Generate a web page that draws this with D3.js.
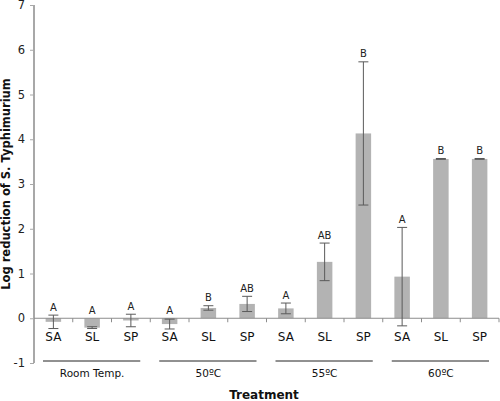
<!DOCTYPE html>
<html><head><meta charset="utf-8">
<script src="https://cdn.jsdelivr.net/npm/d3@7"></script>
<style>body{margin:0;background:#fff;} svg{display:block;}</style>
</head><body>
<svg id="c" width="500" height="401"></svg>
<script>
const groups = ["Room Temp.", "50ºC", "55ºC", "60ºC"];
const subs = ["SA", "SL", "SP"];
const means = [-0.08, -0.21, -0.05, -0.13, 0.23, 0.32, 0.22, 1.26, 4.13, 0.93, 3.56, 3.56];
const errs = [0.15, 0.02, 0.14, 0.11, 0.05, 0.17, 0.12, 0.42, 1.6, 1.1, 0.01, 0.01];
const letters = ["A", "A", "A", "A", "B", "AB", "A", "AB", "B", "A", "B", "B"];
const yTicks = [-1, 0, 1, 2, 3, 4, 5, 6, 7];

const data = [];
groups.forEach((g, gi) => subs.forEach((s, si) => {
  const i = gi * 3 + si;
  data.push({key: g + "|" + s, group: g, sub: s, mean: means[i], err: errs[i], letter: letters[i]});
}));

const svg = d3.select("#c");
const font = "'DejaVu Sans', Verdana, sans-serif";
const x0 = 34, x1 = 499;
const x = d3.scaleBand().domain(data.map(d => d.key)).range([x0, x1]).paddingInner(0.6).paddingOuter(0.3);
const gx = d3.scaleBand().domain(groups).range([x0, x1]);
const y = d3.scaleLinear().domain([-1, 7]).range([363, 5]);

// y axis
const yAx = svg.append("g").attr("transform", `translate(${x0},0)`)
  .call(d3.axisLeft(y).tickValues(yTicks).tickSize(4).tickPadding(5).tickFormat(d => String(d)));
yAx.select(".domain").attr("stroke", "#a8a8a8").attr("stroke-width", 2).attr("d", `M0,${y(7)}V${y(-1)}`);
yAx.selectAll(".tick line").attr("stroke", "#a8a8a8");
yAx.selectAll(".tick text").attr("font-family", font).attr("font-size", 11.5).attr("fill", "#222");

// bars
svg.append("g").selectAll("rect").data(data).join("rect")
  .attr("x", d => x(d.key)).attr("width", x.bandwidth())
  .attr("y", d => y(Math.max(0, d.mean))).attr("height", d => Math.abs(y(d.mean) - y(0)))
  .attr("fill", "#b3b3b3");

// zero line + category boundary ticks
svg.append("line").attr("x1", x0).attr("x2", x1).attr("y1", y(0)).attr("y2", y(0)).attr("stroke", "#8c8c8c").attr("stroke-width", 1);
const step = x.step();
svg.append("g").selectAll("line").data(data).join("line")
  .attr("x1", d => x(d.key) - x.paddingOuter() * step + step).attr("x2", d => x(d.key) - x.paddingOuter() * step + step)
  .attr("y1", y(0)).attr("y2", y(0) + 4).attr("stroke", "#8c8c8c");

// error bars
const eb = svg.append("g").attr("stroke", "#5a5a5a").attr("stroke-width", 1);
data.forEach(d => {
  const cx = x(d.key) + x.bandwidth() / 2;
  const t = y(d.mean + d.err), b = y(d.mean - d.err);
  eb.append("line").attr("x1", cx).attr("x2", cx).attr("y1", t).attr("y2", b);
  eb.append("line").attr("x1", cx - 5).attr("x2", cx + 5).attr("y1", t).attr("y2", t);
  eb.append("line").attr("x1", cx - 5).attr("x2", cx + 5).attr("y1", b).attr("y2", b);
});

// letters
svg.append("g").selectAll("text").data(data).join("text")
  .attr("x", d => x(d.key) + x.bandwidth() / 2)
  .attr("y", d => y(Math.max(0, d.mean + d.err)) - 4.5)
  .attr("text-anchor", "middle").attr("font-family", font).attr("font-size", 10).attr("fill", "#222")
  .text(d => d.letter);

// category labels
svg.append("g").selectAll("text").data(data).join("text")
  .attr("x", d => x(d.key) + x.bandwidth() / 2).attr("y", 341)
  .attr("text-anchor", "middle").attr("font-family", font).attr("font-size", 12).attr("fill", "#111")
  .text(d => d.sub);

// group underlines and labels
svg.append("g").selectAll("line").data(groups).join("line")
  .attr("x1", g => gx(g) + 9).attr("x2", g => gx(g) + gx.bandwidth() - 10)
  .attr("y1", 361).attr("y2", 361).attr("stroke", "#222").attr("stroke-width", 1);
svg.append("g").selectAll("text").data(groups).join("text")
  .attr("x", g => gx(g) + gx.bandwidth() / 2).attr("y", 377)
  .attr("text-anchor", "middle").attr("font-family", font).attr("font-size", 10.5).attr("fill", "#111")
  .text(g => g);

// axis titles
svg.append("text").attr("x", 264).attr("y", 399).attr("text-anchor", "middle")
  .attr("font-family", font).attr("font-weight", "bold").attr("font-size", 12).attr("fill", "#111").text("Treatment");
svg.append("text").attr("transform", "translate(9.5,184) rotate(-90)").attr("text-anchor", "middle")
  .attr("font-family", font).attr("font-weight", "bold").attr("font-size", 11.5).attr("fill", "#111")
  .text("Log reduction of S. Typhimurium");
</script>
</body></html>
